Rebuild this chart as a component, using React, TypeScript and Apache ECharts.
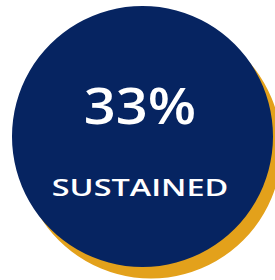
import React, { useEffect, useRef } from "react";
import * as echarts from "echarts";

const percentValues = [33];
const statusLabels = ["SUSTAINED"];
const circleColors = ["#e3a11b", "#062461"];

export default function App() {
  const ref = useRef<HTMLDivElement>(null);
  useEffect(() => {
    if (!ref.current) return;
    const chart = echarts.init(ref.current, null, { renderer: "svg" });
    const value = percentValues[0];
    const label = statusLabels[0];
    chart.setOption({
      animation: false,
      backgroundColor: "#ffffff",
      series: [
        {
          type: "pie",
          silent: true,
          center: [151, 148],
          radius: [0, 130.5],
          label: { show: false },
          labelLine: { show: false },
          itemStyle: { color: circleColors[0] },
          data: [{ value: 1, name: "shadow" }],
        },
        {
          type: "pie",
          silent: true,
          center: [142.5, 136.5],
          radius: [0, 130.5],
          label: { show: false },
          labelLine: { show: false },
          itemStyle: { color: circleColors[1] },
          data: [{ value: value, name: label }],
        },
      ],
      graphic: [
        {
          type: "text",
          z: 100,
          x: 140,
          y: 105,
          scaleX: 1.12,
          style: {
            text: value + "%",
            fill: "#ffffff",
            font: "600 50px 'Open Sans'",
            align: "center",
            verticalAlign: "middle",
          },
        },
        {
          type: "text",
          z: 100,
          x: 140,
          y: 187,
          scaleX: 1.35,
          style: {
            text: label,
            fill: "#ffffff",
            font: "600 24px 'Open Sans'",
            align: "center",
            verticalAlign: "middle",
          },
        },
      ],
    });
    return () => chart.dispose();
  }, []);
  return (
    <div
      ref={ref}
      style={{ position: "fixed", left: 0, top: 0, width: 275, height: 280 }}
    />
  );
}
